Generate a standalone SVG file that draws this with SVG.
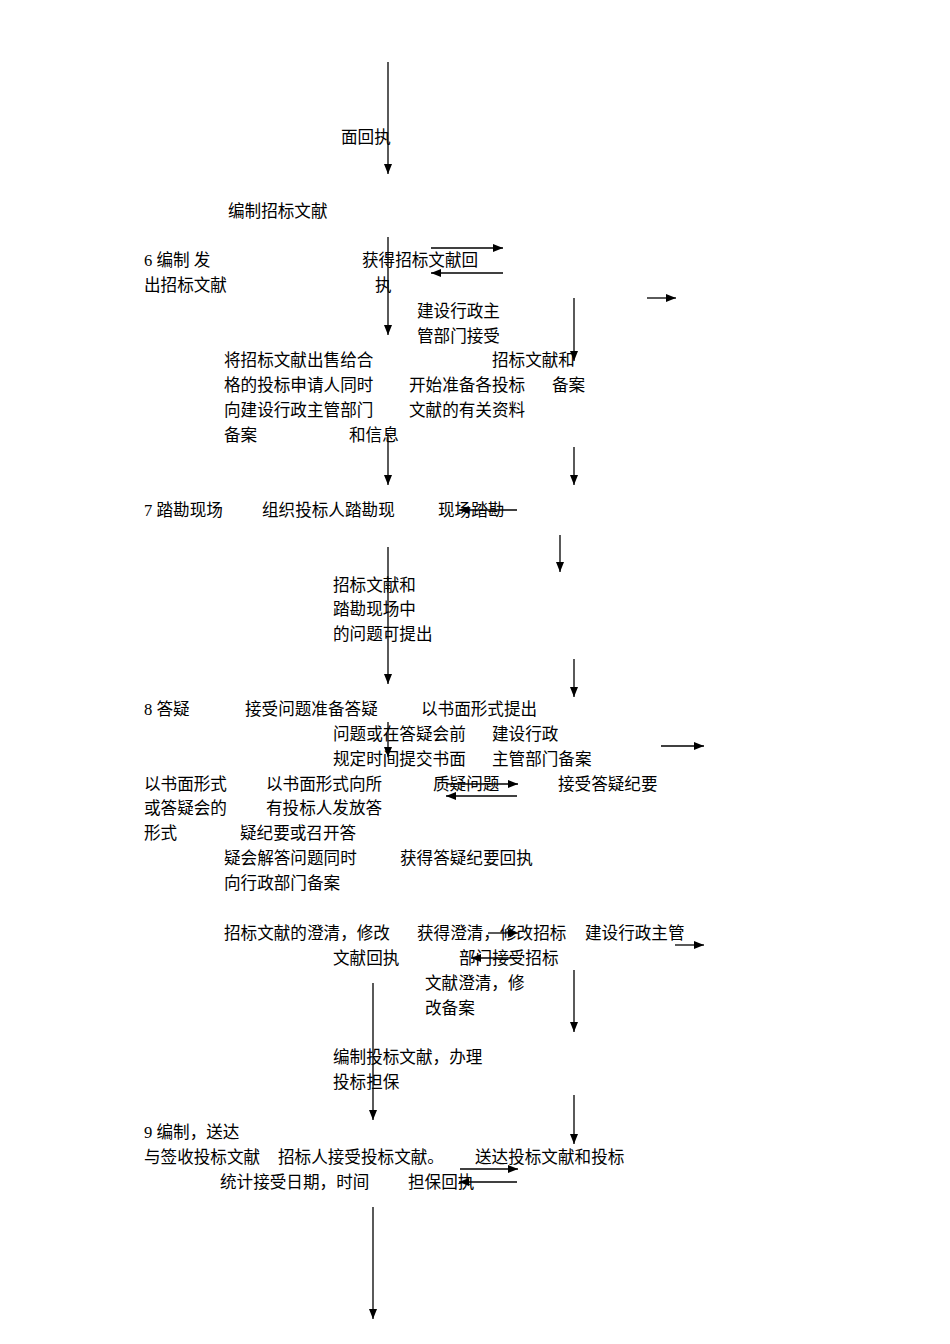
<svg xmlns="http://www.w3.org/2000/svg" width="950" height="1344" viewBox="0 0 950 1344">
<style>
text{font-family:"Liberation Serif","Noto Sans CJK SC",serif;font-size:16.6px;fill:#000}
.c line{stroke:#000;stroke-width:1.3}
</style>
<defs>
<marker id="ah" markerWidth="10" markerHeight="8" refX="10" refY="4" orient="auto" markerUnits="userSpaceOnUse">
<path d="M0,0 L10,4 L0,8 Z" fill="#000"/>
</marker>
</defs>
<rect width="950" height="1344" fill="#fff"/>
<g id="connectors" class="c">
<line x1="388" y1="62" x2="388" y2="174" marker-end="url(#ah)"/>
<line x1="388" y1="237" x2="388" y2="335" marker-end="url(#ah)"/>
<line x1="431" y1="248" x2="503" y2="248" marker-end="url(#ah)"/>
<line x1="503" y1="273" x2="431" y2="273" marker-end="url(#ah)"/>
<line x1="647" y1="298" x2="676" y2="298" marker-end="url(#ah)"/>
<line x1="574" y1="298" x2="574" y2="361" marker-end="url(#ah)"/>
<line x1="388" y1="433" x2="388" y2="485" marker-end="url(#ah)"/>
<line x1="574" y1="447" x2="574" y2="485" marker-end="url(#ah)"/>
<line x1="517" y1="510" x2="459" y2="510" marker-end="url(#ah)"/>
<line x1="560" y1="535" x2="560" y2="572" marker-end="url(#ah)"/>
<line x1="388" y1="547" x2="388" y2="684" marker-end="url(#ah)"/>
<line x1="574" y1="659" x2="574" y2="697" marker-end="url(#ah)"/>
<line x1="388" y1="722" x2="388" y2="757" marker-end="url(#ah)"/>
<line x1="661" y1="746" x2="704" y2="746" marker-end="url(#ah)"/>
<line x1="447" y1="784" x2="518" y2="784" marker-end="url(#ah)"/>
<line x1="517" y1="796" x2="446" y2="796" marker-end="url(#ah)"/>
<line x1="488" y1="933" x2="518" y2="933" marker-end="url(#ah)"/>
<line x1="675" y1="945" x2="704" y2="945" marker-end="url(#ah)"/>
<line x1="517" y1="958" x2="471" y2="958" marker-end="url(#ah)"/>
<line x1="574" y1="970" x2="574" y2="1032" marker-end="url(#ah)"/>
<line x1="373" y1="983" x2="373" y2="1120" marker-end="url(#ah)"/>
<line x1="574" y1="1095" x2="574" y2="1144" marker-end="url(#ah)"/>
<line x1="460" y1="1169" x2="518" y2="1169" marker-end="url(#ah)"/>
<line x1="517" y1="1182" x2="459" y2="1182" marker-end="url(#ah)"/>
<line x1="373" y1="1207" x2="373" y2="1319" marker-end="url(#ah)"/>
</g>
<g id="n-receipt1"><text x="341" y="143">面回执</text></g>
<g id="n-compile"><text x="228" y="217">编制招标文献</text></g>
<g id="n-step6"><text x="144" y="266">6 编制 发</text><text x="144" y="291">出招标文献</text></g>
<g id="n-get-receipt"><text x="362" y="266">获得招标文献回</text><text x="375" y="291">执</text></g>
<g id="n-admin1"><text x="417" y="317">建设行政主</text><text x="417" y="342">管部门接受</text></g>
<g id="n-sell"><text x="224" y="366">将招标文献出售给合</text><text x="224" y="391">格的投标申请人同时</text><text x="224" y="416">向建设行政主管部门</text><text x="224" y="441">备案</text></g>
<g id="n-prepare"><text x="409" y="391">开始准备各投标</text><text x="409" y="416">文献的有关资料</text><text x="349" y="441">和信息</text></g>
<g id="n-filing1"><text x="492" y="366">招标文献和</text><text x="552" y="391">备案</text></g>
<g id="n-step7"><text x="144" y="516">7 踏勘现场</text></g>
<g id="n-organize"><text x="262" y="516">组织投标人踏勘现</text></g>
<g id="n-site"><text x="438" y="516">现场踏勘</text></g>
<g id="n-questions"><text x="333" y="591">招标文献和</text><text x="333" y="615">踏勘现场中</text><text x="333" y="640">的问题可提出</text></g>
<g id="n-step8"><text x="144" y="715">8 答疑</text></g>
<g id="n-accept-q"><text x="245" y="715">接受问题准备答疑</text></g>
<g id="n-written"><text x="421" y="715">以书面形式提出</text><text x="333" y="740">问题或在答疑会前</text><text x="333" y="765">规定时间提交书面</text><text x="433" y="790">质疑问题</text></g>
<g id="n-admin2"><text x="492" y="740">建设行政</text><text x="492" y="765">主管部门备案</text></g>
<g id="n-accept-min"><text x="558" y="790">接受答疑纪要</text></g>
<g id="n-form"><text x="144" y="790">以书面形式</text><text x="144" y="814">或答疑会的</text><text x="144" y="839">形式</text></g>
<g id="n-issue"><text x="266" y="790">以书面形式向所</text><text x="266" y="814">有投标人发放答</text><text x="240" y="839">疑纪要或召开答</text><text x="224" y="864">疑会解答问题同时</text><text x="224" y="889">向行政部门备案</text></g>
<g id="n-get-min"><text x="400" y="864">获得答疑纪要回执</text></g>
<g id="n-clarify"><text x="224" y="939">招标文献的澄清，修改</text></g>
<g id="n-get-clar"><text x="417" y="939">获得澄清，修改招标</text><text x="333" y="964">文献回执</text></g>
<g id="n-admin3"><text x="585" y="939">建设行政主管</text><text x="459" y="964">部门接受招标</text><text x="425" y="989">文献澄清，修</text><text x="425" y="1014">改备案</text></g>
<g id="n-bid"><text x="333" y="1063">编制投标文献，办理</text><text x="333" y="1088">投标担保</text></g>
<g id="n-step9"><text x="144" y="1138">9 编制，送达</text><text x="144" y="1163">与签收投标文献</text></g>
<g id="n-receive"><text x="278" y="1163">招标人接受投标文献。</text><text x="220" y="1188">统计接受日期，时间</text></g>
<g id="n-deliver"><text x="475" y="1163">送达投标文献和投标</text><text x="408" y="1188">担保回执</text></g>
</svg>
